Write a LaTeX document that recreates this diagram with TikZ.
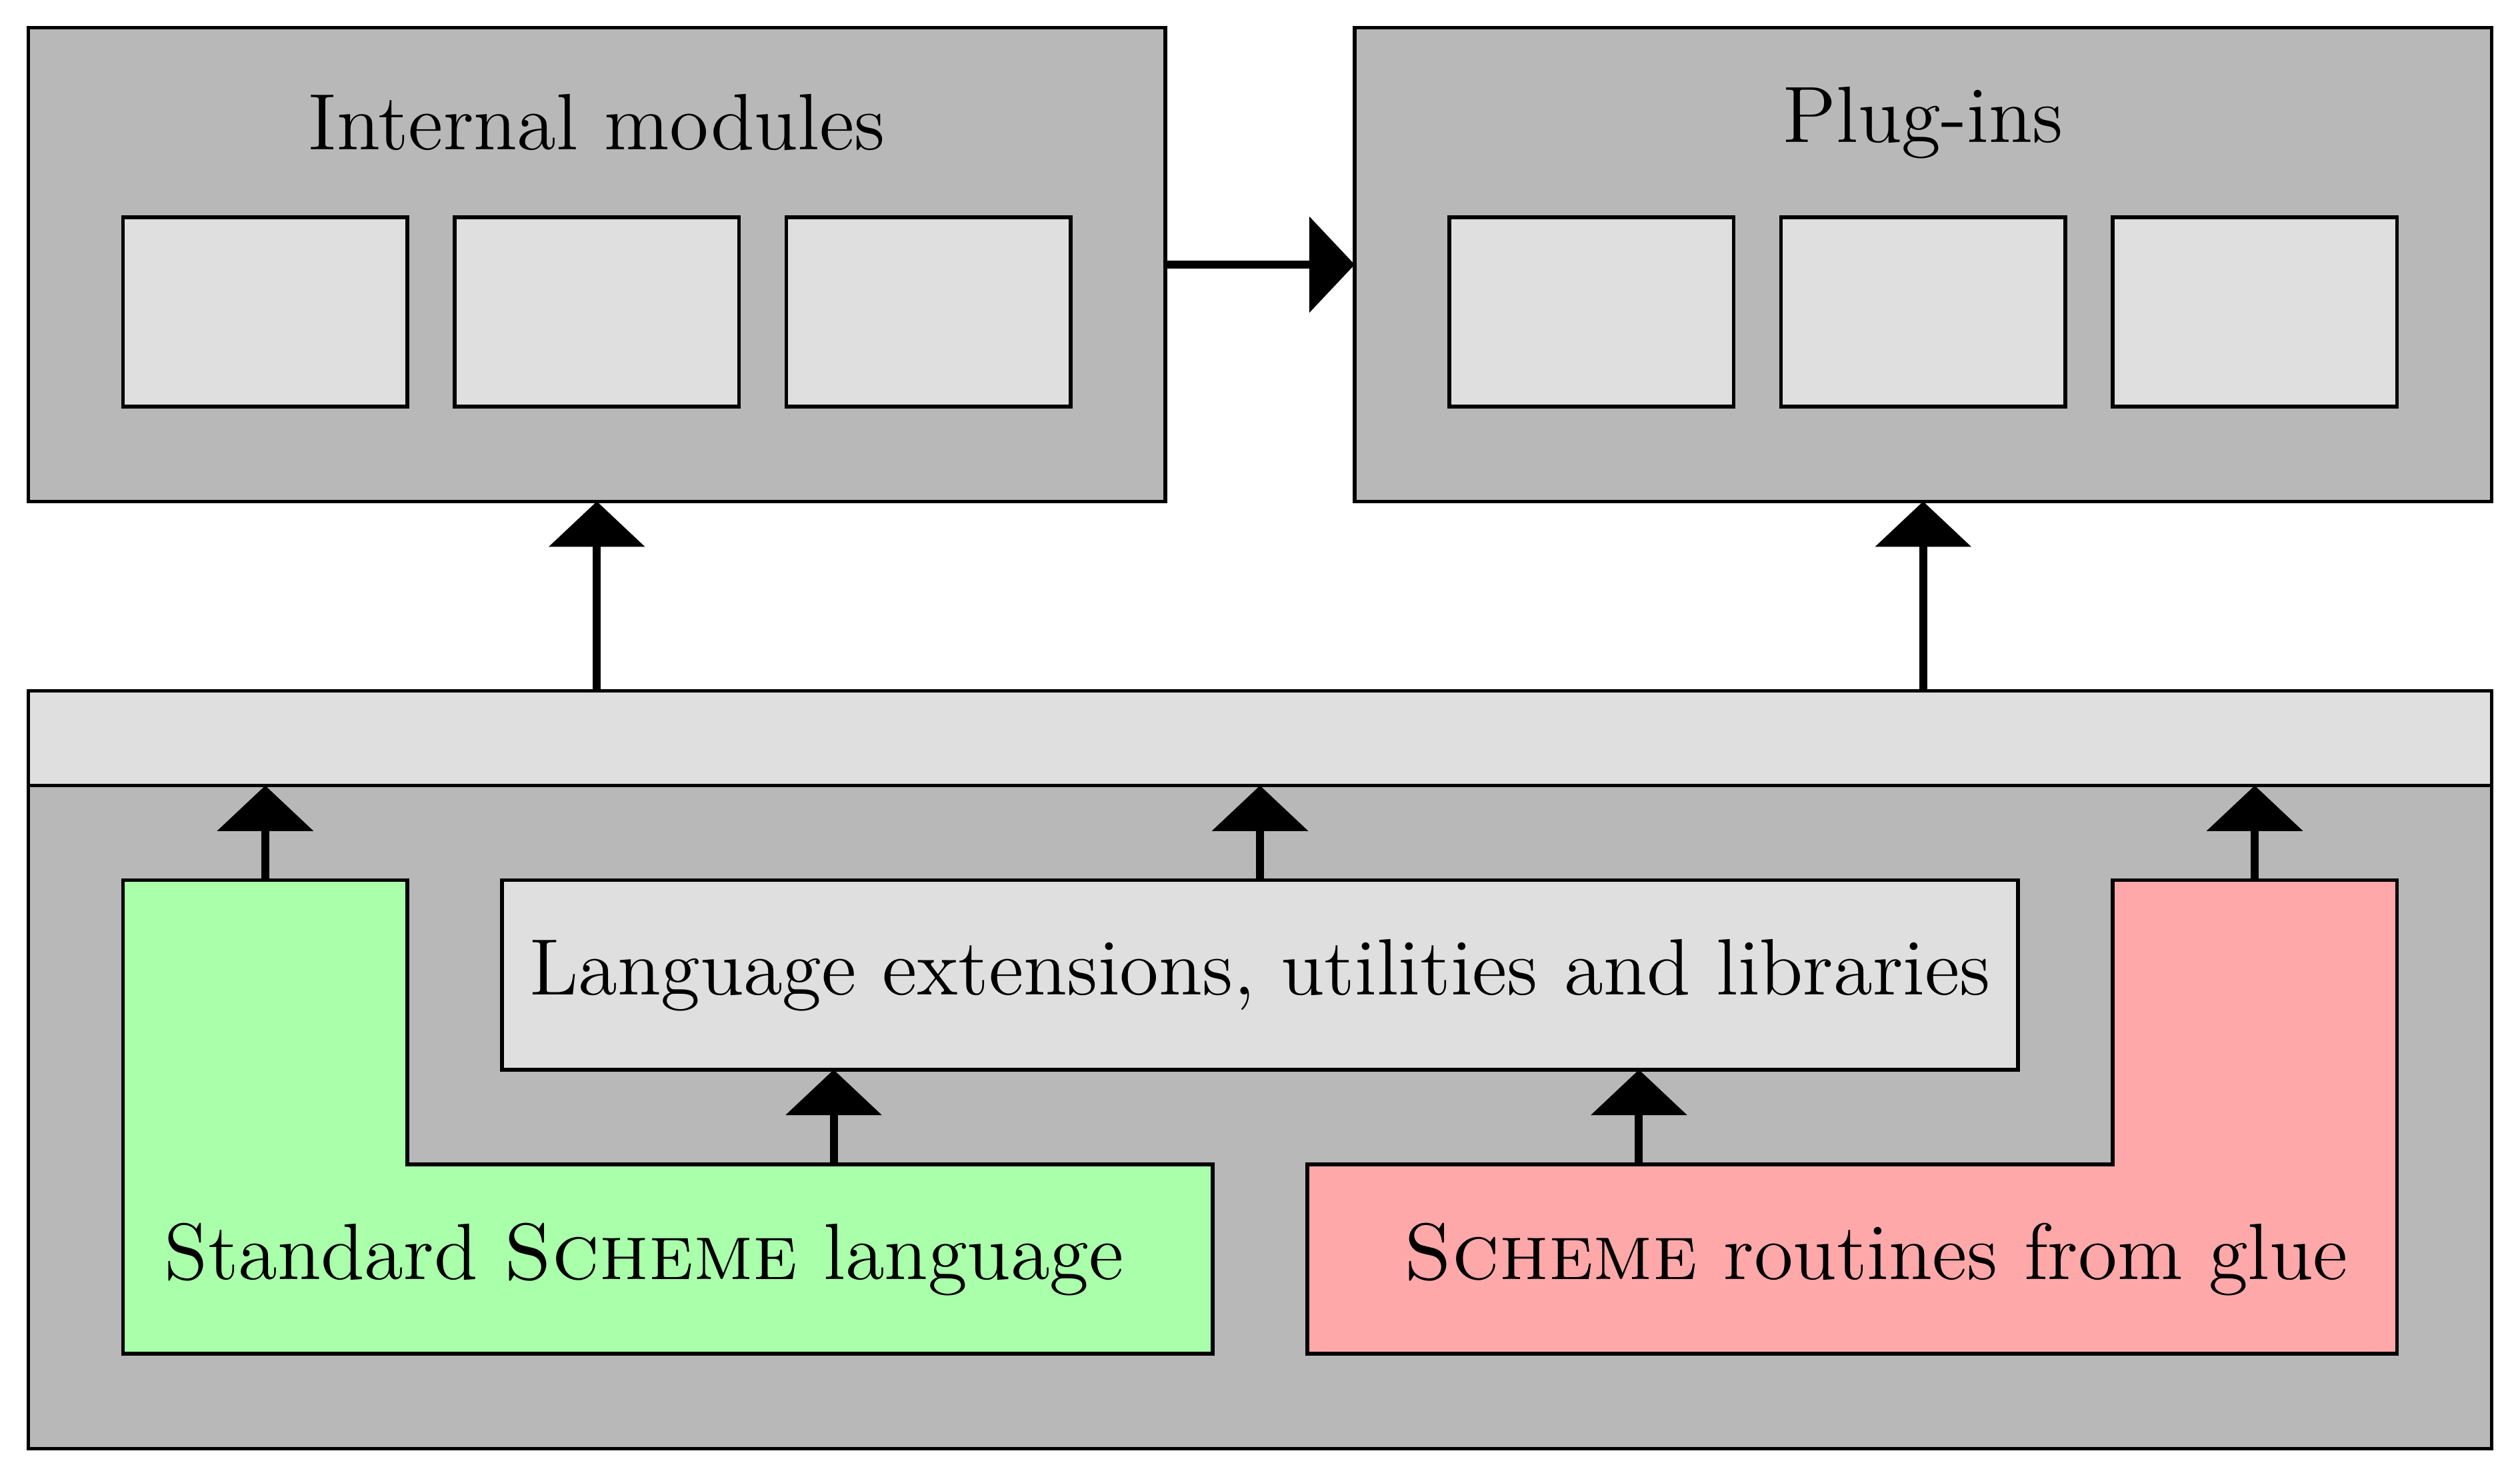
\documentclass[tikz,border=0pt]{standalone}
\usetikzlibrary{arrows.meta}

\definecolor{panelgray}{gray}{0.72}
\definecolor{slotgray}{gray}{0.875}
\definecolor{schemegreen}{RGB}{170,255,170}
\definecolor{gluered}{RGB}{255,168,170}

\tikzset{
  panel/.style={draw, fill=panelgray, line width=0.55pt, inner sep=0pt, outer sep=0pt},
  slot/.style={draw, fill=slotgray, line width=0.55pt, inner sep=0pt, outer sep=0pt,
    minimum width=1.5cm, minimum height=1cm},
  boxtext/.style={font=\large, inner sep=0pt},
  flow/.style={-{Triangle[width=5mm,length=2.4mm]}, line width=1.2pt}
}

\begin{document}
\begin{tikzpicture}
\useasboundingbox (-0.15,-0.147) rectangle (13.15,7.647);

% lower part
\node[panel, minimum width=13cm, minimum height=3.5cm] (core) at (6.5,1.75) {};
\node[slot, minimum width=13cm, minimum height=0.5cm] (glue) at (6.5,3.75) {};

\draw[line width=0.55pt, fill=schemegreen] (0.5,3) -- (2,3) -- (2,1.5) -- (6.25,1.5)
  -- (6.25,0.5) -- (0.5,0.5) -- cycle;
\draw[line width=0.55pt, fill=gluered] (11,3) -- (12.5,3) -- (12.5,0.5) -- (6.75,0.5)
  -- (6.75,1.5) -- (11,1.5) -- cycle;
\coordinate (stdtop) at (1.25,3);
\coordinate (stdmid) at (4.25,1.5);
\coordinate (gluetop) at (11.75,3);
\coordinate (gluemid) at (8.5,1.5);

\node[slot, minimum width=8cm, font=\large] (ext) at (6.5,2.5) {Language extensions, utilities and libraries};
\node[boxtext] (stdtext) at (3.25,1) {Standard \textsc{Scheme} language};
\node[boxtext] (gluetext) at (9.75,1) {\textsc{Scheme} routines from glue};

% upper part
\node[panel, minimum width=6cm, minimum height=2.5cm] (internal) at (3,6.25) {};
\node[panel, minimum width=6cm, minimum height=2.5cm] (plugins) at (10,6.25) {};
\node[boxtext] (internaltext) at (3,7) {Internal modules};
\node[boxtext] (pluginstext) at (10,7) {Plug-ins};
\foreach \x/\n in {1.25/a, 3/b, 4.75/c} {
  \node[slot] (int\n) at (\x,6) {};
  \node[slot] (plug\n) at (\x+7,6) {};
}

% arrows
\draw[flow] (stdtop) -- (stdtop |- glue.south);
\draw[flow] (ext.north) -- (ext.north |- glue.south);
\draw[flow] (gluetop) -- (gluetop |- glue.south);
\draw[flow] (stdmid) -- (stdmid |- ext.south);
\draw[flow] (gluemid) -- (gluemid |- ext.south);
\draw[flow] (internal.south |- glue.north) -- (internal.south);
\draw[flow] (plugins.south |- glue.north) -- (plugins.south);
\draw[flow] (internal.east) -- (plugins.west);
\end{tikzpicture}
\end{document}
